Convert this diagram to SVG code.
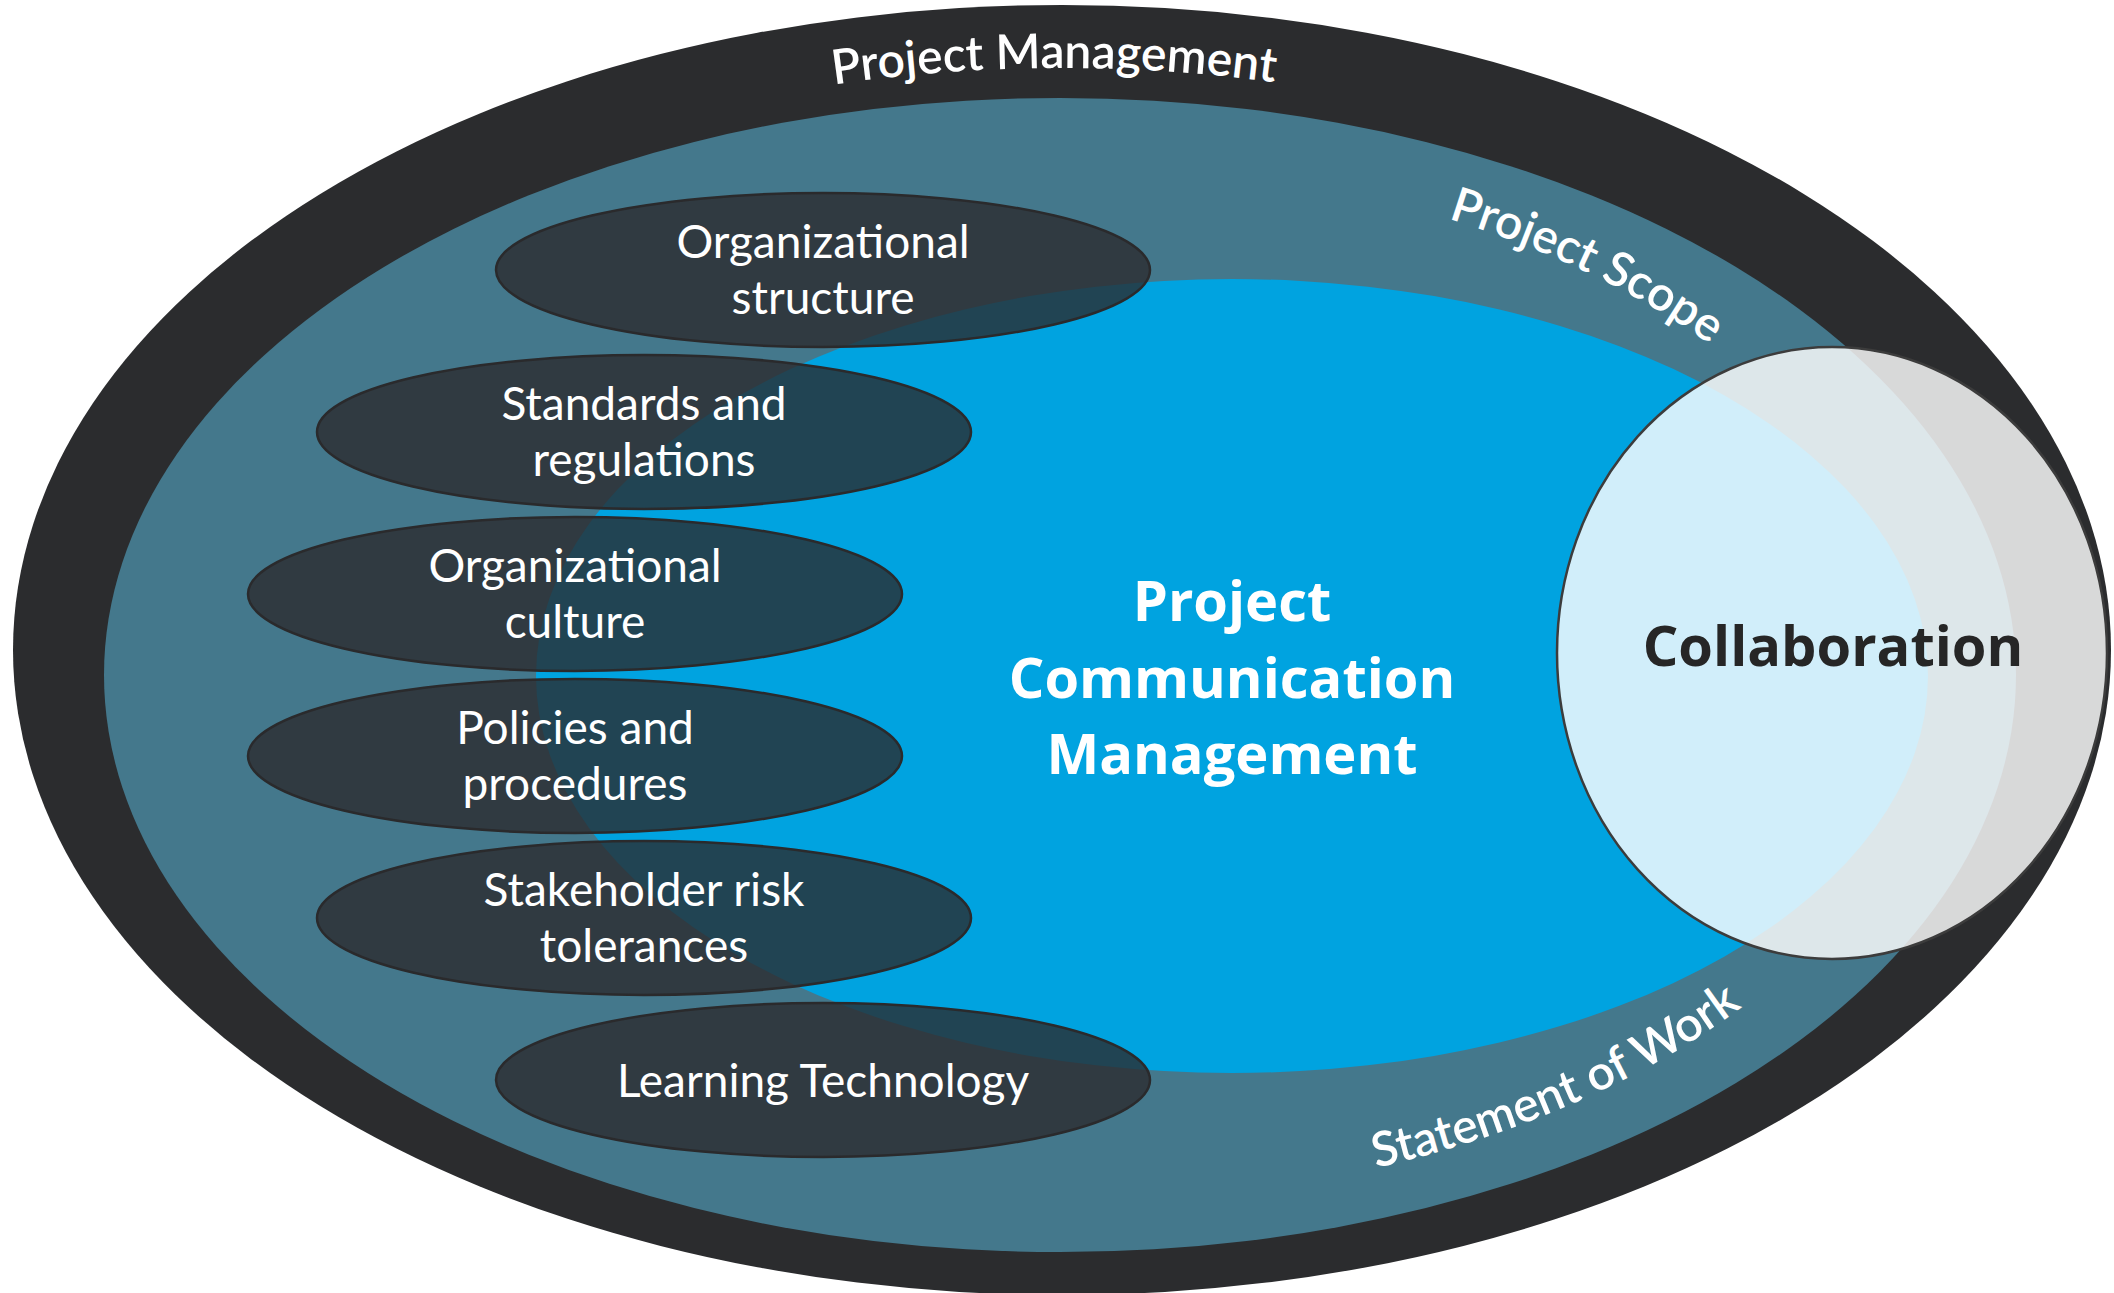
<svg xmlns="http://www.w3.org/2000/svg" xmlns:xlink="http://www.w3.org/1999/xlink" width="2114" height="1293" viewBox="0 0 2114 1293">
<style>
.item{fill:#2a292b;fill-opacity:0.78;stroke:#2a2a2c;stroke-width:2.5}
.itxt{font-family:Lato,"Open Sans","Liberation Sans",sans-serif;font-size:46px;fill:#ffffff;text-anchor:middle}
.curve{font-family:Lato,"Open Sans","Liberation Sans",sans-serif;font-size:48px;fill:#ffffff;font-weight:600}
.big{font-family:"Open Sans","Liberation Sans",sans-serif;font-size:56px;font-weight:bold;text-anchor:middle}
</style>
<defs>
<path id="pmPath" d="M 95 650 A 967 582 0 0 1 2029 650"/>
<path id="psPath" d="M 1448 218.6 A 850 513 0 0 1 1910 675"/>
<path id="swPath" d="M 1376 1168 A 877 529 0 0 0 1937 675"/>
</defs>
<g id="project-management">
<ellipse cx="1062" cy="650" rx="1049" ry="645" fill="#2b2c2e"/>
<text class="curve"><textPath xlink:href="#pmPath" href="#pmPath" startOffset="49.68%" text-anchor="middle">Project Management</textPath></text>
</g>
<g id="project-scope">
<ellipse cx="1060" cy="675" rx="956" ry="577" fill="#44788c"/>
<text class="curve"><textPath xlink:href="#psPath" href="#psPath" startOffset="0">Project Scope</textPath></text>
<text class="curve" font-size="50"><textPath xlink:href="#swPath" href="#swPath" startOffset="0">Statement of Work</textPath></text>
</g>
<g id="project-communication-management">
<ellipse cx="1232" cy="676" rx="696" ry="397" fill="#00a3e0"/>
</g>
<g id="organizational-structure">
<ellipse class="item" cx="823" cy="270" rx="327" ry="77"/>
<text class="itxt" x="823" y="258">Organizational</text>
<text class="itxt" x="823" y="314">structure</text>
</g>
<g id="standards-and-regulations">
<ellipse class="item" cx="644" cy="432" rx="327" ry="77"/>
<text class="itxt" x="644" y="420">Standards and</text>
<text class="itxt" x="644" y="476">regulations</text>
</g>
<g id="organizational-culture">
<ellipse class="item" cx="575" cy="594" rx="327" ry="77"/>
<text class="itxt" x="575" y="582">Organizational</text>
<text class="itxt" x="575" y="638">culture</text>
</g>
<g id="policies-and-procedures">
<ellipse class="item" cx="575" cy="756" rx="327" ry="77"/>
<text class="itxt" x="575" y="744">Policies and</text>
<text class="itxt" x="575" y="800">procedures</text>
</g>
<g id="stakeholder-risk-tolerances">
<ellipse class="item" cx="644" cy="918" rx="327" ry="77"/>
<text class="itxt" x="644" y="906">Stakeholder risk</text>
<text class="itxt" x="644" y="962">tolerances</text>
</g>
<g id="learning-technology">
<ellipse class="item" cx="823" cy="1080" rx="327" ry="77"/>
<text class="itxt" x="823" y="1097">Learning Technology</text>
</g>
<g id="pcm-label">
<text class="big" fill="#ffffff" x="1232" y="621">Project</text>
<text class="big" fill="#ffffff" x="1232" y="698">Communication</text>
<text class="big" fill="#ffffff" x="1232" y="774">Management</text>
</g>
<g id="collaboration">
<ellipse cx="1832" cy="653" rx="275" ry="306" fill="#ffffff" fill-opacity="0.82" stroke="#3c3c3c" stroke-width="2.5"/>
<text class="big" fill="#262626" x="1833" y="666">Collaboration</text>
</g>
<g id="connectors"/>
</svg>
